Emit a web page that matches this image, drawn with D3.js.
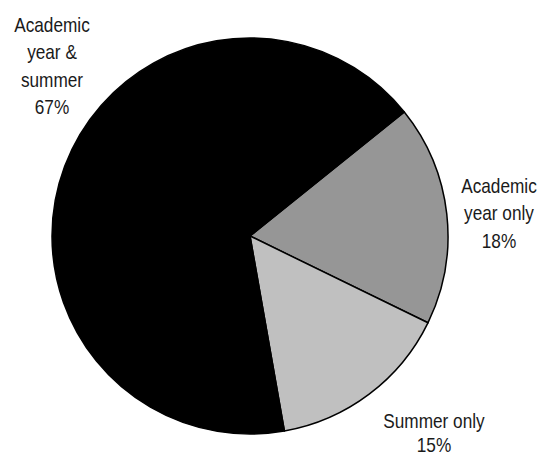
<!DOCTYPE html>
<html><head><meta charset="utf-8">
<script src="https://cdn.jsdelivr.net/npm/d3@7"></script>
<style>body{margin:0;background:#fff}</style>
</head><body>
<svg id="c" width="541" height="458"></svg>
<script>
const categories = ["Academic year only", "Summer only", "Academic year & summer"];
const values = [18, 15, 67];
const colors = ["#969696", "#c0c0c0", "#000000"];
const labelLines = [["Academic", "year only", "18%"], ["Summer only", "15%"], ["Academic", "year &", "summer", "67%"]];

const svg = d3.select("#c");
const cx = 250, cy = 236, r = 198;
const g = svg.append("g").attr("transform", `translate(${cx},${cy})`);
const start = 51.2 * Math.PI / 180;
const pie = d3.pie().sort(null).value(d => d).startAngle(start).endAngle(start + 2 * Math.PI);
const arc = d3.arc().innerRadius(0).outerRadius(r);
const arcs = pie(values);
g.selectAll("path").data(arcs).enter().append("path")
  .attr("d", arc).attr("fill", (d, i) => colors[i])
  .attr("stroke", "#000").attr("stroke-width", 1.5).attr("stroke-linejoin", "round");

const labelPos = [[499, 193], [434, 428], [52, 32]];
const lh = 27.5;
labelLines.forEach((lines, i) => {
  const t = svg.append("text").attr("text-anchor", "middle")
    .attr("transform", `translate(${labelPos[i][0]},${labelPos[i][1]}) scale(0.82,1)`)
    .attr("font-family", "'Liberation Sans Narrow','Arial Narrow','Liberation Sans',sans-serif")
    .attr("font-size", 21).attr("fill", "#1a1a1a");
  lines.forEach((l, j) => t.append("tspan").attr("x", 0).attr("y", Math.min(j * lh, 452 - labelPos[i][1])).text(l));
});
</script>
</body></html>
